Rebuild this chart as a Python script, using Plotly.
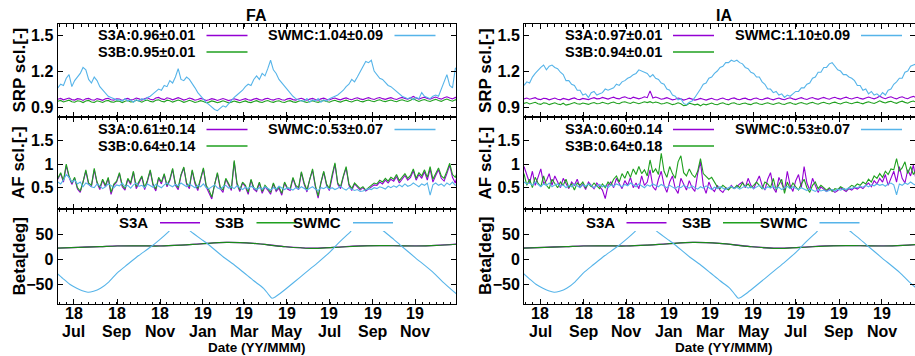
import plotly.graph_objects as go
import pandas as pd

W, H = 915, 356

# ---------------- data ----------------
dates = pd.date_range('2018-06-08', periods=144, freq='4D')

fa_srp_s3a = [0.965,0.972,0.960,0.968,0.975,0.962,0.958,0.970,0.966,0.955,0.968,0.972,
0.960,0.957,0.970,0.964,0.956,0.968,0.973,0.961,0.958,0.969,0.966,0.955,
0.967,0.972,0.960,0.963,0.975,0.968,0.958,0.970,0.978,0.965,0.960,0.975,
0.980,0.968,0.962,0.977,0.972,0.960,0.966,0.978,0.970,0.958,0.965,0.975,
0.968,0.957,0.963,0.972,0.965,0.955,0.960,0.970,0.964,0.955,0.962,0.971,
0.963,0.954,0.960,0.969,0.962,0.955,0.963,0.970,0.960,0.956,0.966,0.972,
0.962,0.957,0.968,0.973,0.963,0.958,0.967,0.971,0.961,0.957,0.968,0.972,
0.962,0.958,0.967,0.973,0.964,0.957,0.966,0.972,0.963,0.958,0.968,0.974,
0.965,0.959,0.969,0.975,0.966,0.960,0.970,0.976,0.967,0.961,0.971,0.977,
0.968,0.962,0.972,0.978,0.969,0.963,0.973,0.979,0.970,0.964,0.972,0.978,
0.969,0.963,0.973,0.980,0.972,0.965,0.975,0.988,0.975,0.966,0.976,0.982,
0.972,0.965,0.976,0.983,0.973,0.966,0.978,0.986,0.975,0.968,0.980,0.975]

fa_srp_s3b = [0.948,0.955,0.942,0.950,0.957,0.944,0.940,0.952,0.948,0.937,0.950,0.955,
0.942,0.939,0.952,0.946,0.938,0.950,0.955,0.943,0.940,0.951,0.948,0.937,
0.949,0.954,0.942,0.945,0.957,0.950,0.940,0.952,0.958,0.947,0.942,0.956,
0.960,0.949,0.943,0.957,0.953,0.941,0.947,0.958,0.951,0.939,0.946,0.956,
0.949,0.938,0.944,0.953,0.946,0.936,0.941,0.951,0.945,0.936,0.943,0.952,
0.944,0.935,0.941,0.950,0.943,0.936,0.944,0.951,0.941,0.937,0.947,0.953,
0.943,0.938,0.949,0.954,0.944,0.939,0.948,0.952,0.942,0.938,0.949,0.953,
0.943,0.939,0.948,0.954,0.945,0.938,0.947,0.953,0.944,0.939,0.949,0.955,
0.946,0.940,0.950,0.956,0.947,0.941,0.951,0.957,0.948,0.942,0.952,0.958,
0.949,0.943,0.953,0.959,0.950,0.944,0.954,0.960,0.951,0.945,0.953,0.959,
0.950,0.944,0.954,0.961,0.953,0.946,0.956,0.968,0.956,0.947,0.957,0.963,
0.953,0.946,0.957,0.964,0.954,0.947,0.959,0.967,0.956,0.949,0.961,0.956]

fa_srp_swmc = [1.06,1.09,1.08,1.14,1.17,1.07,1.12,1.15,1.18,1.23,1.21,1.13,
1.10,1.15,1.12,1.07,1.04,1.01,0.99,0.98,0.97,0.96,0.96,0.95,
0.97,0.95,0.96,0.94,0.96,0.95,0.97,0.96,0.98,0.99,1.01,1.03,
1.05,1.04,1.08,1.07,1.12,1.10,1.15,1.22,1.13,1.12,1.15,1.13,
1.10,1.06,1.02,0.99,0.96,0.94,0.92,0.90,0.88,0.87,0.89,0.91,
0.90,0.93,0.95,0.98,1.00,1.02,1.04,1.07,1.09,1.08,1.13,1.16,
1.13,1.18,1.16,1.22,1.29,1.21,1.18,1.13,1.10,1.07,1.04,1.01,
0.99,0.97,0.96,0.95,0.95,0.97,0.94,0.96,0.95,0.97,0.94,0.96,
0.95,0.97,0.98,0.99,1.00,1.02,1.04,1.07,1.09,1.13,1.11,1.15,
1.19,1.24,1.28,1.27,1.29,1.20,1.17,1.14,1.13,1.10,1.08,1.07,
1.05,1.03,1.01,0.99,0.98,0.97,0.98,0.96,0.98,0.97,1.02,0.99,
0.98,0.97,0.99,1.00,0.99,1.05,1.10,1.17,1.08,1.06,1.22,1.24]

fa_af_s3a = [0.68,0.80,0.62,0.97,0.72,0.57,0.70,0.47,0.40,0.60,0.85,0.57,
0.52,0.88,0.60,0.46,0.66,0.52,0.70,0.36,0.55,0.62,0.80,0.52,
0.45,0.68,0.57,0.83,0.48,0.60,0.73,0.46,0.63,0.86,0.55,0.43,
0.70,0.58,0.78,0.52,0.65,0.89,0.55,0.46,0.76,0.92,0.57,0.48,
0.86,0.58,0.44,0.67,0.90,0.52,0.40,0.26,0.57,0.80,0.48,0.40,
0.68,0.55,0.44,1.05,0.57,0.42,0.60,0.52,0.36,0.66,0.47,0.42,
0.60,0.38,0.52,0.45,0.36,0.58,0.42,0.49,0.34,0.60,0.47,0.44,
0.70,0.52,0.46,0.82,0.57,0.41,0.68,0.87,0.52,0.28,0.60,0.83,
0.55,0.44,0.76,1.00,0.57,0.48,0.73,0.92,0.55,0.44,0.58,0.52,
0.45,0.50,0.43,0.47,0.52,0.56,0.55,0.62,0.58,0.66,0.60,0.68,
0.64,0.74,0.60,0.68,0.76,0.66,0.72,0.86,0.66,0.78,0.70,0.84,
0.66,0.90,0.62,0.76,0.88,0.70,0.64,0.80,0.98,0.72,0.60,0.82]

fa_af_s3b = [0.70,0.82,0.65,1.00,0.75,0.60,0.72,0.50,0.43,0.62,0.88,0.60,
0.55,0.91,0.62,0.50,0.68,0.55,0.72,0.40,0.58,0.64,0.82,0.55,
0.48,0.70,0.60,0.85,0.52,0.62,0.75,0.50,0.66,0.88,0.58,0.47,
0.72,0.62,0.80,0.55,0.68,0.91,0.58,0.50,0.78,0.94,0.60,0.52,
0.88,0.62,0.48,0.70,0.92,0.55,0.45,0.30,0.60,0.82,0.52,0.45,
0.70,0.58,0.48,1.08,0.60,0.45,0.62,0.55,0.40,0.68,0.50,0.45,
0.62,0.42,0.55,0.48,0.40,0.60,0.45,0.52,0.38,0.62,0.50,0.48,
0.72,0.55,0.50,0.84,0.60,0.45,0.70,0.90,0.55,0.32,0.62,0.85,
0.58,0.48,0.78,1.03,0.60,0.52,0.75,0.95,0.58,0.48,0.60,0.55,
0.48,0.52,0.45,0.50,0.55,0.60,0.58,0.66,0.62,0.70,0.64,0.72,
0.68,0.78,0.65,0.72,0.80,0.70,0.76,0.90,0.70,0.82,0.75,0.88,
0.72,0.95,0.68,0.80,0.92,0.75,0.70,0.85,1.02,0.78,0.72,0.88]

fa_af_swmc = [0.62,0.58,0.66,0.78,0.72,0.62,0.66,0.58,0.62,0.52,0.60,0.57,
0.52,0.50,0.58,0.54,0.48,0.52,0.58,0.55,0.50,0.56,0.54,0.60,
0.52,0.55,0.49,0.56,0.60,0.53,0.55,0.50,0.58,0.55,0.51,0.57,
0.54,0.50,0.56,0.60,0.55,0.52,0.57,0.54,0.60,0.55,0.52,0.58,
0.54,0.50,0.55,0.52,0.58,0.50,0.48,0.53,0.56,0.50,0.47,0.52,
0.55,0.49,0.52,0.48,0.54,0.50,0.46,0.51,0.48,0.53,0.49,0.46,
0.50,0.47,0.52,0.48,0.45,0.50,0.47,0.53,0.49,0.46,0.50,0.48,
0.45,0.50,0.47,0.52,0.48,0.45,0.49,0.52,0.47,0.44,0.50,0.48,
0.52,0.47,0.50,0.46,0.49,0.53,0.48,0.45,0.50,0.47,0.44,0.46,
0.42,0.43,0.45,0.48,0.46,0.50,0.48,0.52,0.50,0.47,0.53,0.50,
0.54,0.51,0.56,0.52,0.58,0.53,0.55,0.60,0.56,0.52,0.58,0.55,
0.60,0.34,0.56,0.60,0.55,0.58,0.53,0.60,0.56,0.62,0.55,0.58]

ia_srp_s3a = [0.968,0.975,0.965,0.972,0.978,0.966,0.962,0.973,0.970,0.960,0.970,0.975,
0.965,0.960,0.972,0.968,0.960,0.970,0.976,0.965,0.962,0.972,0.970,0.962,
0.972,0.978,0.968,0.970,0.980,0.975,0.966,0.976,0.982,0.972,0.968,0.980,
0.985,0.975,0.970,0.982,0.978,0.968,0.975,0.985,0.978,1.035,0.975,0.983,
0.975,0.965,0.970,0.978,0.970,0.960,0.965,0.975,0.968,0.958,0.965,0.974,
0.966,0.958,0.964,0.972,0.965,0.958,0.966,0.973,0.963,0.959,0.969,0.975,
0.965,0.960,0.971,0.976,0.966,0.961,0.970,0.974,0.964,0.960,0.971,0.975,
0.965,0.961,0.970,0.976,0.967,0.960,0.969,0.975,0.966,0.961,0.971,0.977,
0.968,0.962,0.972,0.978,0.969,0.963,0.973,0.979,0.970,0.964,0.974,0.980,
0.971,0.965,0.975,0.981,0.972,0.966,0.976,0.982,0.973,0.967,0.975,0.981,
0.972,0.966,0.976,0.983,0.975,0.968,0.978,0.990,0.978,0.969,0.979,0.985,
0.975,0.968,0.979,0.986,0.976,0.969,0.981,0.989,0.978,0.971,0.983,0.978]

ia_srp_s3b = [0.930,0.938,0.926,0.933,0.940,0.928,0.922,0.935,0.931,0.920,0.930,0.936,
0.926,0.920,0.932,0.916,0.922,0.932,0.938,0.927,0.924,0.934,0.931,0.922,
0.932,0.938,0.928,0.930,0.940,0.935,0.926,0.936,0.942,0.932,0.928,0.940,
0.944,0.935,0.930,0.942,0.938,0.928,0.935,0.944,0.937,0.945,0.934,0.942,
0.935,0.926,0.930,0.938,0.930,0.920,0.925,0.935,0.928,0.912,0.916,0.932,
0.926,0.918,0.924,0.910,0.925,0.918,0.926,0.933,0.923,0.919,0.929,0.935,
0.925,0.920,0.931,0.936,0.926,0.921,0.930,0.934,0.924,0.920,0.931,0.935,
0.926,0.921,0.930,0.936,0.927,0.921,0.929,0.935,0.926,0.921,0.931,0.937,
0.928,0.922,0.932,0.938,0.929,0.923,0.933,0.939,0.930,0.924,0.934,0.940,
0.931,0.925,0.935,0.941,0.932,0.926,0.936,0.942,0.933,0.927,0.935,0.941,
0.933,0.927,0.937,0.944,0.936,0.930,0.940,0.952,0.941,0.934,0.943,0.948,
0.938,0.931,0.942,0.949,0.939,0.932,0.944,0.950,0.940,0.934,0.946,0.941]

ia_srp_swmc = [1.08,1.11,1.10,1.15,1.18,1.21,1.23,1.25,1.21,1.24,1.25,1.23,
1.22,1.19,1.17,1.12,1.12,1.09,1.08,1.04,1.04,1.00,1.01,0.98,
1.02,1.03,1.00,1.01,1.02,1.05,1.04,1.05,1.06,1.09,1.08,1.11,
1.12,1.14,1.15,1.17,1.18,1.21,1.20,1.19,1.18,1.15,1.17,1.14,
1.13,1.10,1.09,1.05,1.04,1.00,0.99,0.96,0.97,0.93,0.92,0.94,
0.95,0.98,1.01,1.05,1.09,1.10,1.14,1.15,1.18,1.20,1.23,1.24,
1.27,1.27,1.29,1.28,1.29,1.27,1.26,1.23,1.22,1.19,1.18,1.15,
1.15,1.11,1.09,1.05,1.05,1.02,1.03,1.00,1.01,0.98,1.00,0.99,
1.01,1.03,1.03,1.06,1.06,1.09,1.10,1.14,1.15,1.19,1.19,1.23,
1.23,1.26,1.27,1.24,1.21,1.20,1.17,1.17,1.15,1.14,1.12,1.08,
1.08,1.04,1.05,1.01,1.03,1.00,1.01,0.99,1.02,1.00,1.04,1.05,
1.09,1.11,1.14,1.14,1.19,1.20,1.24,1.25,1.26,1.27,1.28,1.28]

ia_af_s3a = [0.95,0.78,0.60,0.85,0.55,0.72,0.90,0.58,0.65,0.80,0.55,0.75,
0.62,0.50,0.70,0.58,0.48,0.62,0.55,0.68,0.50,0.58,0.46,0.62,
0.55,0.48,0.60,0.52,0.45,0.27,0.55,0.62,0.50,0.70,0.58,0.48,
0.65,0.55,0.72,0.50,0.60,0.48,0.75,0.55,0.62,0.88,0.52,0.45,
0.68,0.85,0.55,0.40,0.62,0.75,0.48,0.38,0.70,0.58,0.45,0.65,
0.50,0.42,0.80,1.05,0.55,0.38,0.62,0.48,0.42,0.55,0.45,0.40,
0.50,0.46,0.55,0.48,0.52,0.58,0.62,0.50,0.70,0.55,0.48,0.62,
0.75,0.55,0.45,0.68,0.82,0.50,0.40,0.72,0.60,0.45,0.85,0.55,
0.42,0.65,0.78,0.50,0.95,0.60,0.45,0.70,0.55,0.40,0.52,0.46,
0.42,0.48,0.45,0.40,0.44,0.50,0.46,0.42,0.48,0.45,0.50,0.47,
0.52,0.48,0.55,0.60,0.52,0.65,0.58,0.70,0.62,0.78,0.55,0.72,
0.85,0.62,0.95,0.70,0.60,0.88,0.75,0.98,0.65,0.80,0.72,0.85]

ia_af_s3b = [0.80,0.55,0.68,0.50,0.72,0.60,0.52,0.75,0.55,0.48,0.68,0.58,
0.50,0.62,0.55,0.68,0.50,0.58,0.45,0.60,0.55,0.62,0.50,0.58,
0.52,0.60,0.55,0.48,0.58,0.50,0.62,0.55,0.68,0.75,0.62,0.80,
0.70,0.85,0.72,0.90,0.78,0.95,0.80,0.88,0.75,1.09,0.82,0.90,
0.78,1.23,0.85,0.72,0.95,0.80,0.70,1.05,1.18,0.82,0.75,0.90,
0.78,0.72,0.85,1.12,0.80,0.75,0.68,0.72,0.62,0.52,0.48,0.55,
0.50,0.45,0.52,0.48,0.55,0.50,0.60,0.52,0.58,0.50,0.55,0.62,
0.55,0.48,0.62,0.58,0.50,0.70,0.45,0.55,0.68,0.38,0.62,0.48,
0.60,0.52,0.45,0.58,0.68,0.50,0.40,0.55,0.62,0.48,0.55,0.50,
0.45,0.50,0.42,0.48,0.46,0.52,0.48,0.45,0.50,0.55,0.52,0.58,
0.55,0.62,0.58,0.68,0.62,0.75,0.70,0.80,0.72,0.85,0.78,0.90,
0.88,1.12,0.85,0.92,1.05,0.80,0.95,0.78,0.88,0.92,0.80,0.85]

ia_af_swmc = [0.62,0.58,0.60,0.55,0.62,0.57,0.52,0.58,0.55,0.60,0.52,0.56,
0.58,0.53,0.56,0.50,0.55,0.52,0.58,0.54,0.50,0.56,0.53,0.58,
0.55,0.50,0.54,0.57,0.52,0.55,0.50,0.56,0.53,0.58,0.55,0.52,
0.57,0.54,0.60,0.55,0.52,0.58,0.54,0.50,0.56,0.53,0.58,0.55,
0.52,0.57,0.54,0.50,0.55,0.52,0.48,0.53,0.50,0.55,0.52,0.49,
0.54,0.50,0.47,0.52,0.49,0.54,0.50,0.46,0.51,0.48,0.52,0.49,
0.46,0.50,0.53,0.48,0.51,0.47,0.50,0.54,0.49,0.52,0.48,0.51,
0.55,0.50,0.47,0.52,0.49,0.53,0.48,0.51,0.46,0.50,0.53,0.48,
0.52,0.49,0.46,0.50,0.47,0.44,0.48,0.45,0.42,0.46,0.43,0.45,
0.42,0.44,0.46,0.43,0.47,0.45,0.48,0.46,0.50,0.48,0.52,0.50,
0.53,0.51,0.55,0.52,0.56,0.54,0.58,0.55,0.57,0.53,0.58,0.60,
0.56,0.35,0.58,0.55,0.60,0.57,0.62,0.58,0.55,0.60,0.57,0.59]

beta_dates = ['2018-06-07','2018-07-07','2018-08-07','2018-09-01','2018-10-01','2018-11-01',
              '2018-12-01','2018-12-28','2019-02-04','2019-03-14','2019-04-27','2019-06-04',
              '2019-07-07','2019-08-24','2019-10-01','2019-11-03','2019-12-01','2019-12-31']
beta_s3a = [22.5,24,25.5,26.8,27,26.8,28.5,30.8,34,32,25.5,22.2,24,27.2,27.3,26.8,28,30.5]
beta_s3b = [22.3,23.8,25.3,26.6,26.8,26.6,28.3,30.6,33.8,31.8,25.3,22.0,23.8,27.0,27.1,26.6,27.8,30.3]

swmc_beta_dates = ['2018-06-07','2018-06-15','2018-06-25','2018-07-05','2018-07-13','2018-07-21',
    '2018-07-29','2018-08-08','2018-08-20','2018-09-01','2018-09-15','2018-10-01','2018-10-18',
    '2018-11-01','2018-11-13','2018-11-22','2018-11-29','2018-12-06','2018-12-14','2019-01-01',
    '2019-01-07','2019-02-01','2019-02-14','2019-03-01','2019-03-15','2019-03-29','2019-04-05',
    '2019-04-10','2019-04-15','2019-04-22','2019-05-01','2019-05-20','2019-06-01','2019-06-15',
    '2019-07-02','2019-07-15','2019-07-31','2019-08-12','2019-08-23','2019-09-03','2019-09-16',
    '2019-10-01','2019-10-10','2019-11-01','2019-11-27','2019-12-10','2019-12-31']
swmc_beta = [-28,-38,-50,-58,-63,-66,-64,-58,-45,-27,-11,7,24,40,55,68,74,68,57,38,
             32,3,-10,-27,-43,-58,-70,-78,-75,-68,-58,-36,-22,-6,15,34,55,72,80,72,57,
             40,29,3,-27,-45,-71]

tickdates = ['2018-07-01', '2018-09-01', '2018-11-01', '2019-01-01', '2019-03-01',
             '2019-05-01', '2019-07-01', '2019-09-01', '2019-11-01']
tick_years = ['18', '18', '18', '19', '19', '19', '19', '19', '19']
tick_months = ['Jul', 'Sep', 'Nov', 'Jan', 'Mar', 'May', 'Jul', 'Sep', 'Nov']

# ---------------- layout helpers ----------------
def fx(p):
    return p / W

def fy(p):
    return 1 - p / H

C_A, C_B, C_S = '#9400D3', '#1fa01f', '#56B4E9'
FONT = 'Liberation Sans'

panels_x = {'FA': (57.5, 456.0), 'IA': (524.0, 923.0)}
xranges = {'FA': ['2018-06-07 12:00', '2019-12-29 00:00'],
           'IA': ['2018-06-08 00:00', '2019-12-18 08:00']}
rows_y = [(24, 117), (117, 209), (209, 304)]
yranges = [[0.817, 1.592], [0.047, 2.004], [-89.4, 100.6]]
ytickvals = [[0.9, 1.2, 1.5], [0.5, 1, 1.5], [-50, 0, 50]]
ytitles = ['SRP scl.[-]', 'AF scl.[-]', 'Beta[deg]']

fig = go.Figure()
layout = dict(width=W, height=H, margin=dict(l=0, r=0, t=0, b=0),
              paper_bgcolor='white', plot_bgcolor='white', showlegend=False,
              font=dict(family=FONT, size=15, color='black'))
annotations, shapes = [], []

series = {
    'FA': [(fa_srp_s3a, fa_srp_s3b, fa_srp_swmc), (fa_af_s3a, fa_af_s3b, fa_af_swmc)],
    'IA': [(ia_srp_s3a, ia_srp_s3b, ia_srp_swmc), (ia_af_s3a, ia_af_s3b, ia_af_swmc)],
}
legend_txt = {
    'FA': [('S3A:0.96±0.01', 'S3B:0.95±0.01', 'SWMC:1.04±0.09'),
           ('S3A:0.61±0.14', 'S3B:0.64±0.14', 'SWMC:0.53±0.07')],
    'IA': [('S3A:0.97±0.01', 'S3B:0.94±0.01', 'SWMC:1.10±0.09'),
           ('S3A:0.60±0.14', 'S3B:0.64±0.18', 'SWMC:0.53±0.07')],
}

bold = dict(family=FONT, weight='bold')
LEG_SIZE = 14.5
n = 0
for col, name in enumerate(['FA', 'IA']):
    x0, x1 = panels_x[name]
    dom_x = [fx(x0), min(1.0, fx(x1))]
    for r in range(3):
        n += 1
        xa = 'x' if n == 1 else f'x{n}'
        ya = 'y' if n == 1 else f'y{n}'
        top, bot = rows_y[r]
        if r < 2:
            a, b, s = series[name][r]
            for vals, c in ((a, C_A), (b, C_B), (s, C_S)):
                fig.add_trace(go.Scatter(x=dates, y=vals, mode='lines', xaxis=xa, yaxis=ya,
                                         line=dict(color=c, width=1.1)))
        else:
            fig.add_trace(go.Scatter(x=beta_dates, y=beta_s3a, mode='lines', xaxis=xa, yaxis=ya,
                                     line=dict(color=C_A, width=1.3, shape='spline')))
            fig.add_trace(go.Scatter(x=beta_dates, y=beta_s3b, mode='lines', xaxis=xa, yaxis=ya,
                                     line=dict(color='#1a8a1a', width=1.2, shape='spline')))
            fig.add_trace(go.Scatter(x=swmc_beta_dates, y=swmc_beta, mode='lines', xaxis=xa, yaxis=ya,
                                     line=dict(color=C_S, width=1.1, shape='spline', smoothing=0.6)))
            # two-line date tick labels
            for d, yr, mo in zip(tickdates, tick_years, tick_months):
                for txt, yy in ((yr, 313.5), (mo, 331)):
                    annotations.append(dict(text=txt, xref=xa, yref='paper', x=d, y=fy(yy),
                                            xanchor='center', yanchor='middle', showarrow=False,
                                            font=dict(size=16, **bold)))
        key = 'xaxis' if n == 1 else f'xaxis{n}'
        ykey = 'yaxis' if n == 1 else f'yaxis{n}'
        layout[key] = dict(domain=dom_x, anchor=ya, type='date', range=xranges[name],
                           showline=True, linecolor='black', linewidth=1, mirror='allticks',
                           ticks='inside', ticklen=5, tickcolor='black', tickwidth=1,
                           tickvals=tickdates, showticklabels=False,
                           showgrid=False, zeroline=False,
                           minor=dict(ticks='inside', ticklen=2.5, tickcolor='black',
                                      tick0='2018-07-01', dtick=61 / 6 * 86400000, showgrid=False))
        layout[ykey] = dict(domain=[fy(bot), fy(top)], anchor=xa, range=yranges[r],
                            showline=True, linecolor='black', linewidth=1, mirror='allticks',
                            ticks='inside', ticklen=5, tickcolor='black', tickwidth=1,
                            tickvals=ytickvals[r], showgrid=False, zeroline=False,
                            tickfont=dict(size=16, **bold))
        # y-axis title
        annotations.append(dict(text=ytitles[r], xref='paper', yref='paper', x=fx(x0 - 38.5),
                                y=fy((top + bot) / 2), textangle=-90, showarrow=False,
                                xanchor='center', yanchor='middle',
                                font=dict(size=17, **bold)))
        # legend box & entries
        if r < 2:
            ya_rows = [(35.4, 52.1), (129.4, 146.1)][r]
            shapes.append(dict(type='rect', xref='paper', yref='paper', layer='above',
                               x0=fx(x0 + 50), x1=fx(x0 + 385), y0=fy(top + 6), y1=fy(ya_rows[1] + 7),
                               fillcolor='white', line=dict(width=0)))
            t = legend_txt[name][r]
            entries = [(t[0], x0 + 138.5, ya_rows[0], C_A),
                       (t[1], x0 + 138.5, ya_rows[1], C_B),
                       (t[2], x0 + 326.5, ya_rows[0], C_S)]
            for txt, xe, yy, c in entries:
                annotations.append(dict(text=txt, xref='paper', yref='paper', x=fx(xe), y=fy(yy),
                                        xanchor='right', yanchor='middle', showarrow=False,
                                        borderpad=0, font=dict(size=LEG_SIZE, **bold)))
                shapes.append(dict(type='line', xref='paper', yref='paper', layer='above',
                                   x0=fx(xe + 10.5), x1=fx(xe + 51.5), y0=fy(yy), y1=fy(yy),
                                   line=dict(color=c, width=1.5)))
        else:
            yy = 222.7
            shapes.append(dict(type='rect', xref='paper', yref='paper', layer='above',
                               x0=fx(x0 + 55), x1=fx(x0 + 345), y0=fy(top + 6), y1=fy(231),
                               fillcolor='white', line=dict(width=0)))
            for k, (txt, c) in enumerate([('S3A', C_A), ('S3B', C_B), ('SWMC', C_S)]):
                xe = x0 + 91.5 + 96.5 * k
                annotations.append(dict(text=txt, xref='paper', yref='paper', x=fx(xe), y=fy(yy),
                                        xanchor='right', yanchor='middle', showarrow=False,
                                        borderpad=0, font=dict(size=15, **bold)))
                shapes.append(dict(type='line', xref='paper', yref='paper', layer='above',
                                   x0=fx(xe + 11), x1=fx(xe + 51), y0=fy(yy), y1=fy(yy),
                                   line=dict(color=c, width=1.5)))
    cx = (x0 + x1) / 2
    annotations.append(dict(text=name, xref='paper', yref='paper', x=fx(cx), y=fy(15),
                            xanchor='center', yanchor='middle', showarrow=False,
                            font=dict(size=16, **bold)))
    annotations.append(dict(text='Date (YY/MMM)', xref='paper', yref='paper', x=fx(cx), y=fy(347.5),
                            xanchor='center', yanchor='middle', showarrow=False,
                            font=dict(size=13.5, **bold)))

layout['annotations'] = annotations
layout['shapes'] = shapes
fig.update_layout(**layout)
fig.write_html('out.html')
